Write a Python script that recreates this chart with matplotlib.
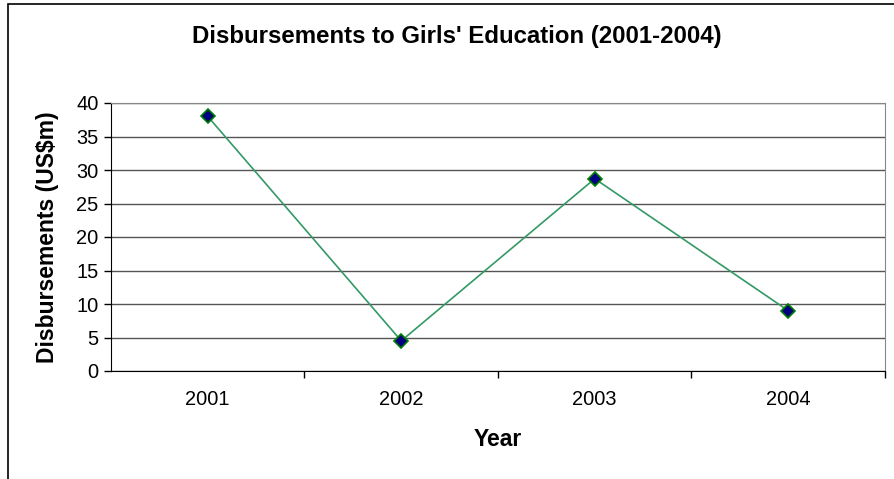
import matplotlib.pyplot as plt
from matplotlib.patches import Rectangle

plt.rcParams['font.family'] = ['Liberation Sans', 'DejaVu Sans']

years = ['2001', '2002', '2003', '2004']
disbursements = [38.0, 4.5, 28.7, 9.0]
y_ticks = [0, 5, 10, 15, 20, 25, 30, 35, 40]

fig = plt.figure(figsize=(8.95, 4.79), dpi=100)

# chart area border (runs off the right and bottom edges)
fig.patches.append(Rectangle((8 / 895, -0.05), 1.0, 1 - 4 / 479 + 0.05,
                             transform=fig.transFigure, fill=False,
                             edgecolor='black', linewidth=1.2))

ax = fig.add_axes([111 / 895, 1 - 371 / 479, 774 / 895, 268 / 479])

x = range(len(years))
ax.plot(x, disbursements, '-', color='#339966', linewidth=1.2,
        marker='D', markersize=7, markerfacecolor='#000080',
        markeredgecolor='#008000', markeredgewidth=1.2, zorder=3)

ax.set_xlim(-0.5, len(years) - 0.5)
ax.set_ylim(0, 40)
ax.set_yticks(y_ticks)
ax.yaxis.grid(True, color='#555555', linewidth=1.0)
ax.set_axisbelow(True)

# category labels centred, tick marks between categories
ax.set_xticks([i + 0.5 for i in range(len(years) - 1)] + [len(years) - 0.5])
ax.set_xticklabels([])
ax.set_xticks(list(x), minor=True)
ax.set_xticklabels(years, minor=True)
ax.tick_params(axis='x', which='minor', length=0, pad=14, labelsize=14.4)
ax.tick_params(axis='x', which='major', length=5, width=1, direction='out')
ax.tick_params(axis='y', length=5, width=1, direction='out', pad=4, labelsize=14.4)

for side in ('top', 'right'):
    ax.spines[side].set_color('#888888')
for side in ('left', 'bottom'):
    ax.spines[side].set_color('black')

ax.set_xlabel('Year', fontsize=16.5, fontweight='bold', va='center')
ax.xaxis.set_label_coords(0.5, (371 - 440) / 268)
ax.set_ylabel('Disbursements (US$m)', fontsize=16.5, fontweight='bold', va='center')
ax.yaxis.set_label_coords((48 - 111) / 774, 0.5)

fig.text(457 / 895, 1 - 37 / 479, "Disbursements to Girls' Education (2001-2004)",
         ha='center', va='center', fontsize=17.3, fontweight='bold')

fig.savefig('out.png', dpi=100)
